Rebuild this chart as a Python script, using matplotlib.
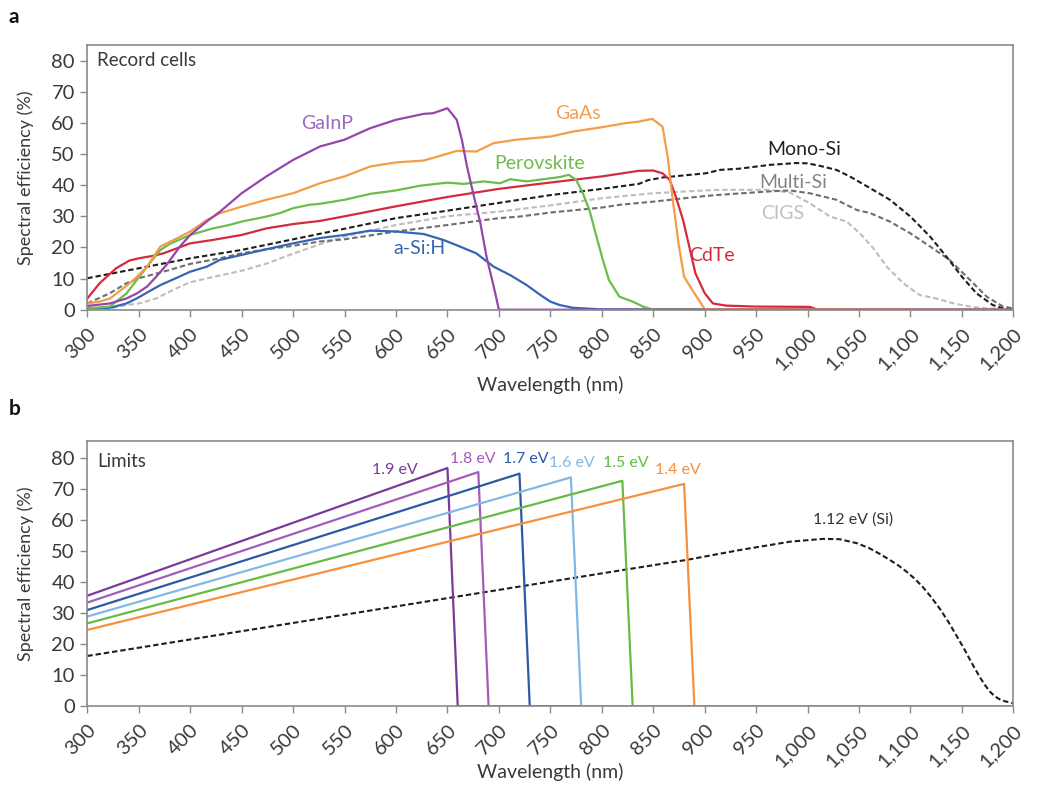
import numpy as np
import matplotlib
matplotlib.use("Agg")
import matplotlib.pyplot as plt

plt.rcParams['font.family'] = ['Lato', 'DejaVu Sans']

# ---- record cells (panel a) ----
gainp_x = [300, 322, 338, 348, 358, 367, 377, 390, 400, 416, 429, 450, 474, 500, 526, 550, 575, 600,
           627, 636, 650, 659, 664, 669, 675, 682, 688, 695, 700, 1200]
gainp_y = [1.2, 2.0, 3.6, 5.2, 7.4, 10.6, 14.4, 20.3, 24.0, 28.3, 31.5, 37.4, 42.8, 48.1, 52.4, 54.6, 58.3, 61.0,
           62.9, 63.1, 64.7, 61.0, 54.6, 46.0, 37.4, 27.8, 17.0, 7.4, 0.0, 0.0]

gaas_x = [300, 312, 322, 335, 345, 358, 371, 384, 400, 416, 429, 450, 474, 500, 526, 550, 575, 600, 627,
          650, 659, 678, 695, 717, 750, 772, 800, 823, 836, 849, 859, 864, 869, 875, 880, 888, 900, 1200]
gaas_y = [2.0, 2.6, 3.6, 6.9, 9.5, 13.8, 20.3, 22.4, 25.1, 28.8, 31.0, 33.1, 35.3, 37.4, 40.6, 42.8, 46.0, 47.3, 47.9,
          50.1, 51.0, 50.8, 53.5, 54.6, 55.6, 57.2, 58.6, 59.9, 60.4, 61.3, 58.8, 49.2, 35.3, 20.3, 10.6, 6.3, 0.2, 0.0]

perov_x = [300, 322, 328, 338, 348, 358, 371, 380, 400, 422, 438, 450, 474, 487, 500, 516, 526, 550, 575, 600,
           623, 650, 666, 685, 701, 711, 727, 750, 759, 768, 775, 781, 788, 794, 801, 807, 817, 830, 840, 849, 1200]
perov_y = [0.4, 1.0, 2.6, 5.2, 9.5, 13.8, 19.2, 21.1, 24.0, 26.1, 27.2, 28.3, 29.9, 31.0, 32.6, 33.7, 34.0, 35.3, 37.2, 38.3,
           39.8, 40.8, 40.4, 41.2, 40.6, 41.9, 41.2, 42.2, 42.6, 43.3, 41.7, 37.9, 32.0, 24.5, 16.0, 9.5, 4.2, 2.6, 1.0, 0.1, 0.0]

cdte_x = [300, 312, 328, 341, 350, 364, 374, 387, 400, 422, 450, 474, 500, 526, 550, 600, 650, 700, 739, 772,
          800, 820, 836, 850, 859, 866, 872, 879, 885, 891, 900, 908, 921, 950, 1002, 1010, 1100]
cdte_y = [3.6, 8.5, 13.3, 15.8, 16.5, 17.3, 18.1, 19.7, 21.3, 22.4, 24.0, 26.1, 27.5, 28.5, 30.0, 33.2, 36.2, 38.8, 40.4, 41.7,
          42.8, 43.8, 44.6, 44.7, 43.8, 41.7, 36.3, 28.8, 20.3, 11.7, 5.3, 2.0, 1.3, 1.0, 0.9, 0.0, 0.0]

asi_x = [300, 322, 338, 348, 358, 371, 384, 400, 416, 429, 450, 474, 500, 526, 550, 575, 600, 627, 646, 662,
         678, 695, 711, 727, 740, 750, 759, 772, 800, 1200]
asi_y = [0.4, 0.6, 2.0, 3.6, 5.5, 7.9, 9.8, 12.2, 13.8, 16.0, 17.6, 19.4, 21.3, 23.0, 24.0, 25.4, 25.1, 24.3, 22.4, 20.3,
         18.1, 13.8, 11.1, 7.9, 4.8, 2.6, 1.5, 0.6, 0.1, 0.0]

mono_x = [300, 350, 400, 450, 500, 550, 600, 650, 700, 720, 750, 800, 818, 836, 845, 860, 901, 915, 934, 963,
          989, 1000, 1012, 1028, 1041, 1061, 1080, 1100, 1119, 1135, 1150, 1164, 1180, 1190, 1200]
mono_y = [10.1, 13.3, 16.5, 19.2, 22.6, 26.0, 29.4, 31.8, 34.3, 35.3, 36.8, 38.8, 39.6, 40.4, 41.6, 42.5, 43.8, 44.9, 45.3, 46.5,
          47.1, 47.0, 46.2, 44.9, 42.8, 39.0, 35.3, 29.9, 23.5, 17.0, 10.6, 5.3, 1.5, 0.4, 0.1]

multi_x = [300, 322, 338, 350, 374, 400, 429, 450, 474, 500, 526, 550, 600, 650, 700, 720, 750, 800, 818, 850,
           900, 915, 963, 983, 1002, 1028, 1048, 1061, 1080, 1100, 1119, 1138, 1158, 1174, 1190, 1200]
multi_y = [2.0, 5.3, 8.5, 10.1, 12.2, 14.7, 16.5, 18.1, 19.4, 20.5, 21.9, 22.6, 25.1, 27.2, 29.4, 29.9, 31.2, 32.8, 33.7, 34.7,
           36.5, 36.9, 38.0, 38.3, 37.4, 35.3, 32.0, 31.0, 28.3, 24.5, 20.3, 16.0, 9.5, 4.2, 1.0, 0.4]

cigs_x = [300, 322, 338, 350, 367, 380, 390, 400, 422, 450, 474, 500, 526, 550, 600, 650, 700, 720, 750, 800,
          850, 900, 915, 963, 983, 1002, 1022, 1038, 1051, 1064, 1077, 1093, 1109, 1125, 1142, 1158, 1174, 1200]
cigs_y = [0.1, 0.4, 1.5, 2.0, 3.6, 5.8, 7.4, 8.8, 10.5, 12.5, 14.8, 18.0, 21.0, 23.5, 27.2, 30.0, 31.5, 32.3, 33.5, 35.8,
          37.4, 38.3, 38.5, 38.5, 37.6, 34.2, 29.9, 28.3, 24.5, 19.7, 13.8, 8.5, 4.7, 3.6, 2.0, 1.0, 0.4, 0.2]

# ---- detailed-balance limits (panel b) ----
gap_names = ['1.9 eV', '1.8 eV', '1.7 eV', '1.6 eV', '1.5 eV', '1.4 eV']
gap_start = [35.6, 33.4, 31.0, 28.9, 26.7, 24.6]      # efficiency at 300 nm
gap_peak_x = [650, 680, 720, 770, 820, 880]
gap_peak_y = [76.7, 75.4, 74.9, 73.7, 72.6, 71.6]
gap_cut_x = [660, 690, 730, 780, 830, 890]

si_x = [300, 740, 821, 882, 934, 983, 1015, 1031, 1048, 1060, 1070, 1080, 1088, 1096, 1104, 1112, 1120, 1129,
        1137, 1145, 1152, 1158, 1163, 1168, 1172, 1177, 1182, 1187, 1192, 1200]
si_y = [16.2, 39.6, 43.9, 47.1, 50.3, 53.0, 53.9, 53.8, 52.5, 50.9, 49.1, 47.1, 45.4, 43.4, 41.1, 38.4, 35.2, 31.2,
        27.1, 22.6, 18.6, 14.9, 11.9, 9.1, 7.0, 4.8, 3.2, 2.2, 1.6, 1.0]

xticks = list(range(300, 1201, 50))
xlabels = ['{:,}'.format(t) for t in xticks]
yticks = list(range(0, 81, 10))

txt = '#3a3a3a'
frame = '#8a8a8a'
dash = (0, (2.6, 1.4))

fig = plt.figure(figsize=(10.37, 7.86), dpi=100)
ax1 = fig.add_axes([0.0842, 0.606, 0.893, 0.3367])
ax2 = fig.add_axes([0.0842, 0.1014, 0.893, 0.3379])


def style(ax, ytop, xlab_y):
    ax.set_xlim(300, 1200)
    ax.set_ylim(0, ytop)
    ax.set_xticks(xticks)
    ax.set_xticklabels(xlabels, rotation=45, ha='right', va='top', rotation_mode='anchor')
    ax.set_yticks(yticks)
    ax.tick_params(axis='both', direction='out', length=5, width=1, color=frame,
                   labelsize=14.5, labelcolor=txt, pad=4)
    ax.tick_params(axis='x', pad=6)
    for s in ax.spines.values():
        s.set_color(frame)
        s.set_linewidth(1.2)
    ax.set_xlabel('Wavelength (nm)', fontsize=14, color=txt)
    ax.set_ylabel('Spectral efficiency (%)', fontsize=13, color=txt)
    ax.xaxis.set_label_coords(0.5, xlab_y)
    ax.yaxis.set_label_coords(-0.058, 0.5)


style(ax1, 85, -0.25)
style(ax2, 85.5, -0.215)

# panel a
ax1.plot(cigs_x, cigs_y, color='#bdbdbd', lw=1.5, ls=dash)
ax1.plot(multi_x, multi_y, color='#6e6e6e', lw=1.5, ls=dash)
ax1.plot(mono_x, mono_y, color='#1e1e1e', lw=1.5, ls=dash)
ax1.plot(asi_x, asi_y, color='#3566b3', lw=1.6)
ax1.plot(cdte_x, cdte_y, color='#d42a3e', lw=1.6)
ax1.plot(perov_x, perov_y, color='#6bbd4b', lw=1.6)
ax1.plot(gaas_x, gaas_y, color='#f59c47', lw=1.6)
ax1.plot(gainp_x, gainp_y, color='#9545ab', lw=1.6)

ax1.text(0.0105, 0.94, 'Record cells', transform=ax1.transAxes, fontsize=13.5, color=txt, va='center')
ax1.text(533, 59.7, 'GaInP', color='#a066bd', fontsize=14, ha='center', va='center')
ax1.text(777, 62.9, 'GaAs', color='#f5a050', fontsize=14, ha='center', va='center')
ax1.text(740, 47.1, 'Perovskite', color='#6bbd4b', fontsize=14, ha='center', va='center')
ax1.text(997, 51.3, 'Mono-Si', color='#222222', fontsize=14, ha='center', va='center')
ax1.text(986, 41.0, 'Multi-Si', color='#858585', fontsize=14, ha='center', va='center')
ax1.text(976, 31.0, 'CIGS', color='#c0c0c0', fontsize=14, ha='center', va='center')
ax1.text(907, 17.5, 'CdTe', color='#d42a3e', fontsize=14, ha='center', va='center')
ax1.text(623, 19.8, 'a-Si:H', color='#3566b3', fontsize=14, ha='center', va='center')

# panel b
gap_colors = ['#7a3a9a', '#a35cbc', '#2d5aa6', '#82b8e6', '#66bb44', '#f5913c']
gap_label_x = [599, 675, 726, 771, 823, 874]
gap_label_y = [76.2, 79.6, 79.6, 78.2, 78.2, 76.2]
ax2.plot(si_x, si_y, color='#1e1e1e', lw=1.5, ls=dash)
for i in range(len(gap_names)):
    xs = [300, gap_peak_x[i], gap_cut_x[i], 1200]
    ys = [gap_start[i], gap_peak_y[i], 0, 0]
    ax2.plot(xs, ys, color=gap_colors[i], lw=1.6)
    ax2.text(gap_label_x[i], gap_label_y[i], gap_names[i], color=gap_colors[i], fontsize=11.5,
             ha='center', va='center')
ax2.text(1044, 60.0, '1.12 eV (Si)', color='#333333', fontsize=11.5, ha='center', va='center')
ax2.text(0.0105, 0.923, 'Limits', transform=ax2.transAxes, fontsize=13.5, color=txt, va='center')

fig.text(0.008, 0.978, 'a', fontsize=15, fontweight='bold', color='#111111', va='center')
fig.text(0.008, 0.480, 'b', fontsize=15, fontweight='bold', color='#111111', va='center')

fig.savefig('out.png', dpi=100, facecolor='white')
